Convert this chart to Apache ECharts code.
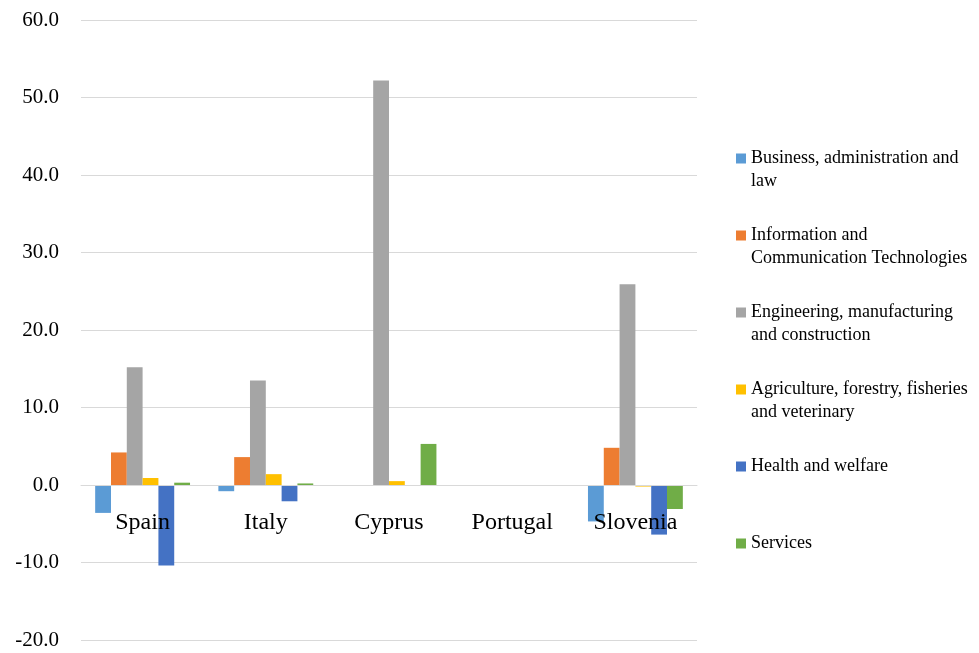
<!DOCTYPE html>
<html>
<head>
<meta charset="utf-8">
<script src="https://cdn.jsdelivr.net/npm/echarts@6/dist/echarts.min.js"></script>
<style>html,body{margin:0;padding:0;background:#fff;}#c{width:979px;height:653px;}</style>
</head>
<body>
<div id="c"></div>
<script>
const categories = ['Spain', 'Italy', 'Cyprus', 'Portugal', 'Slovenia'];
const seriesNames = [
  'Business, administration and\nlaw',
  'Information and\nCommunication Technologies',
  'Engineering, manufacturing\nand construction',
  'Agriculture, forestry, fisheries\nand veterinary',
  'Health and welfare',
  'Services'
];
const business = [-3.6, -0.8, null, null, -4.7];
const ict = [4.2, 3.6, null, null, 4.8];
const engineering = [15.2, 13.5, 52.2, null, 25.9];
const agriculture = [0.9, 1.4, 0.5, null, -0.2];
const health = [-10.4, -2.1, null, null, -6.4];
const services = [0.3, 0.2, 5.3, null, -3.1];
const yTicks = { min: -20, max: 60, interval: 10 };

const colors = ['#5B9BD5', '#ED7D31', '#A5A5A5', '#FFC000', '#4472C4', '#70AD47'];
const values = [business, ict, engineering, agriculture, health, services];
const font = '"Liberation Serif", "Times New Roman", serif';

const gridTop = 20, gridBottom = 13, H = 653;
const plotH = H - gridTop - gridBottom;
const zeroFromBottom = plotH * (0 - yTicks.min) / (yTicks.max - yTicks.min);

const chart = echarts.init(document.getElementById('c'), null, { renderer: 'canvas' });
chart.setOption({
  animation: false,
  backgroundColor: '#fff',
  color: colors,
  textStyle: { fontFamily: font },
  grid: { left: 81, right: 282, top: gridTop, bottom: gridBottom, containLabel: false, outerBoundsMode: 'none' },
  legend: {
    orient: 'vertical',
    left: 731,
    top: 119,
    itemWidth: 10,
    itemHeight: 10,
    itemGap: 8,
    icon: 'rect',
    selectedMode: false,
    textStyle: { fontFamily: font, fontSize: 18, color: '#000', lineHeight: 23 },
    formatter: n => n.indexOf('\n') >= 0 ? '\n' + n : '\n' + n + '\n',
    data: seriesNames
  },
  xAxis: {
    type: 'category',
    data: categories,
    z: 10,
    offset: -zeroFromBottom,
    axisLine: { show: true, onZero: false, lineStyle: { color: '#d9d9d9', width: 1 } },
    axisTick: { show: false },
    axisLabel: { margin: 26, fontFamily: font, fontSize: 24, color: '#000' },
    splitLine: { show: false }
  },
  yAxis: {
    type: 'value',
    min: yTicks.min,
    max: yTicks.max,
    interval: yTicks.interval,
    axisLine: { show: false },
    axisTick: { show: false },
    splitLine: { lineStyle: { color: '#d9d9d9', width: 1 } },
    axisLabel: {
      margin: 22, fontFamily: font, fontSize: 21, color: '#000',
      formatter: v => v.toFixed(1)
    }
  },
  series: values.map((d, i) => ({
    name: seriesNames[i],
    type: 'bar',
    data: d,
    barGap: '0%',
    barCategoryGap: '23%',
    itemStyle: { color: colors[i] }
  }))
});
</script>
</body>
</html>
